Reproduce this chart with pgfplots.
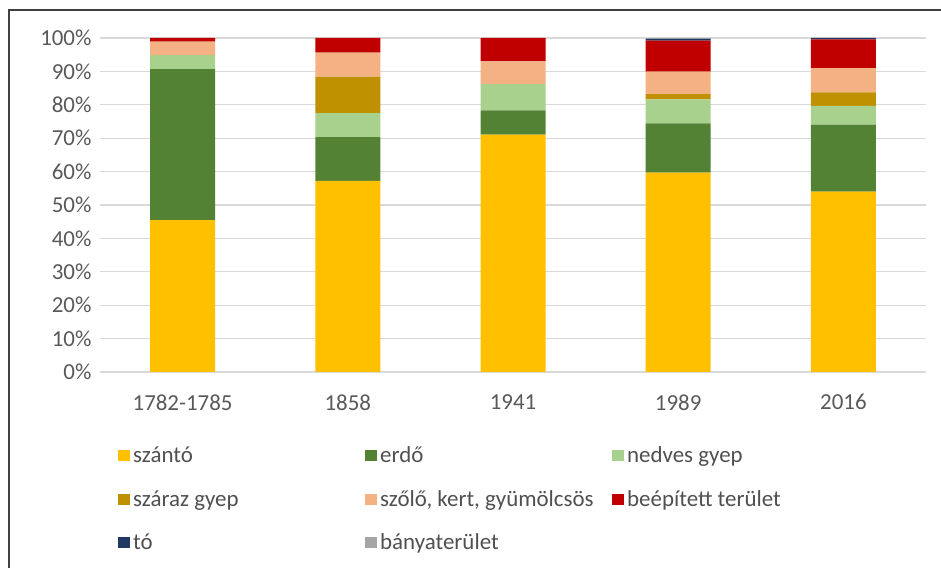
\documentclass[border=0pt]{standalone}
\usepackage{pgfplots}
\pgfplotsset{compat=1.18}
\usepackage{fontspec}
\setmainfont{Carlito}
\definecolor{cszanto}{HTML}{FFC000}
\definecolor{cerdo}{HTML}{548235}
\definecolor{cnedves}{HTML}{A9D18E}
\definecolor{cszaraz}{HTML}{BF9000}
\definecolor{cszolo}{HTML}{F4B183}
\definecolor{cbeep}{HTML}{C00000}
\definecolor{cto}{HTML}{1F3864}
\definecolor{cbanya}{HTML}{A5A5A5}
\definecolor{ctick}{HTML}{595959}
\definecolor{cleg}{HTML}{505050}
\definecolor{cgrid}{HTML}{D9D9D9}
\begin{document}
\begin{tikzpicture}[x=1bp,y=1bp]
\useasboundingbox (-100,-196) rectangle (841,372);
\draw[color=black!75, line width=1.2bp] (-91,-200) -- (-91,362) -- (845,362);
\begin{axis}[
  at={(0,0)}, anchor=south west,
  scale only axis, width=826bp, height=334bp,
  ybar stacked, bar width=65bp,
  xmin=-0.5, xmax=4.5, ymin=0, ymax=100,
  axis line style={draw=none}, tick style={draw=none},
  ymajorgrids, grid style={color=cgrid, line width=1.3bp},
  ytick={0,10,...,100},
  /pgf/number format/assume math mode=true,
  yticklabel={\pgfmathprintnumber{\tick}\%},
  xtick=data,
  xticklabels={1782-1785,1858,1941,1989,2016},
  ticklabel style={font=\fontsize{23}{26}\selectfont, text=ctick},
  yticklabel style={xshift=-5bp},
  xticklabel style={yshift=-19bp},
  every axis plot/.append style={draw=none},
  legend columns=3,
  legend cell align=left,
  legend image code/.code={\fill[#1] (0bp,-5.5bp) rectangle (12bp,5.5bp);},
  legend style={at={(rel axis cs:0.0218,-0.215)}, anchor=north west, draw=none,
    inner sep=0pt, column sep=0pt, row sep=20bp,
    font=\fontsize{23}{26}\selectfont, text=cleg,
    nodes={inner sep=3bp}},
]
\addplot[fill=cszanto] coordinates {(0,45.5) (1,57.2) (2,71.1) (3,59.7) (4,54.0)};
\addlegendentry{\makebox[229bp][l]{szántó}}
\addplot[fill=cerdo] coordinates {(0,45.2) (1,13.1) (2,7.2) (3,14.7) (4,20.1)};
\addlegendentry{\makebox[229bp][l]{erdő}}
\addplot[fill=cnedves] coordinates {(0,4.2) (1,7.2) (2,7.9) (3,7.2) (4,5.6)};
\addlegendentry{\makebox[229bp][l]{nedves gyep}}
\addplot[fill=cszaraz] coordinates {(0,0) (1,10.9) (2,0) (3,1.6) (4,4.0)};
\addlegendentry{\makebox[229bp][l]{száraz gyep}}
\addplot[fill=cszolo] coordinates {(0,4.0) (1,7.2) (2,6.8) (3,6.7) (4,7.3)};
\addlegendentry{\makebox[229bp][l]{szőlő, kert, gyümölcsös}}
\addplot[fill=cbeep] coordinates {(0,1.1) (1,4.4) (2,7.0) (3,9.3) (4,8.6)};
\addlegendentry{\makebox[229bp][l]{beépített terület}}
\addplot[fill=cto] coordinates {(0,0) (1,0) (2,0) (3,0.5) (4,0.4)};
\addlegendentry{\makebox[229bp][l]{tó}}
\addplot[fill=cbanya] coordinates {(0,0) (1,0) (2,0) (3,0.3) (4,0)};
\addlegendentry{\makebox[229bp][l]{bányaterület}}
\end{axis}
\end{tikzpicture}
\end{document}
